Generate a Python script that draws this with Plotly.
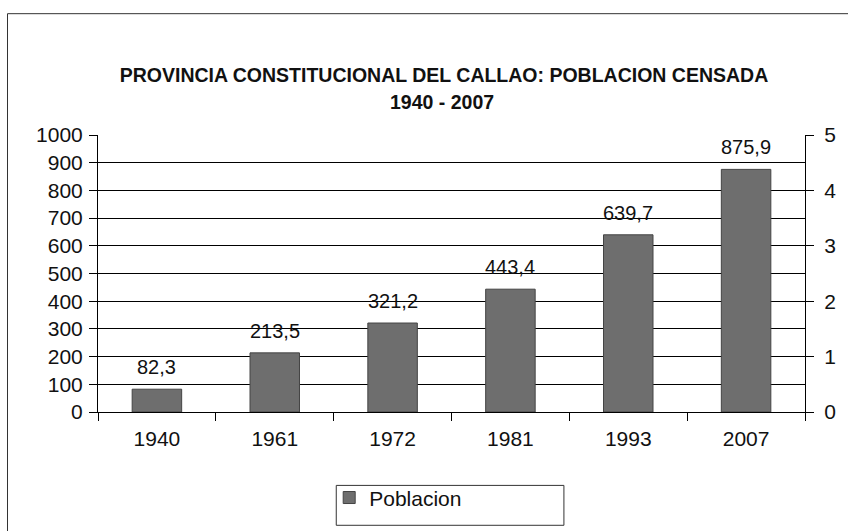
import plotly.graph_objects as go

years = ["1940", "1961", "1972", "1981", "1993", "2007"]
poblacion = [82.3, 213.5, 321.2, 443.4, 639.7, 875.9]
left_ticks = [0, 100, 200, 300, 400, 500, 600, 700, 800, 900, 1000]
right_ticks = [0, 1, 2, 3, 4, 5]

font_name = "Liberation Sans, Arial, sans-serif"

fig = go.Figure()
fig.add_trace(go.Bar(
    x=years, y=poblacion, name="Poblacion",
    marker=dict(color="#6e6e6e", line=dict(color="#444444", width=1)),
    width=0.42,
))
# empty trace so the secondary axis is drawn
fig.add_trace(go.Scatter(x=[], y=[], yaxis="y2", showlegend=False))

# value labels above the bars (x given as category index)
for i, v in enumerate(poblacion):
    fig.add_annotation(
        x=i, y=v, text=f"{v:.1f}".replace(".", ","),
        showarrow=False, yanchor="middle", yshift=22,
        font=dict(size=20, color="#111111"),
    )

# second title line
fig.add_annotation(
    x=0.487, y=1.118, xref="paper", yref="paper",
    text="<b>1940 - 2007</b>", showarrow=False,
    xanchor="center", yanchor="middle",
    font=dict(family=font_name, size=19.5, color="#111111"),
)

fig.update_layout(
    width=848, height=531,
    margin=dict(l=98, r=38, t=135, b=117),
    paper_bgcolor="white", plot_bgcolor="white",
    font=dict(family=font_name, size=21, color="#111111"),
    title=dict(
        text="<b>PROVINCIA CONSTITUCIONAL DEL CALLAO: POBLACION CENSADA</b>",
        x=0.5236, xref="container", xanchor="center",
        y=0.8588, yref="container", yanchor="middle",
        font=dict(family=font_name, size=19.5, color="#111111"),
    ),
    xaxis=dict(
        type="category", range=[-0.5, len(years) - 0.5],
        showline=True, linecolor="black", linewidth=1,
        ticks="outside", ticklen=8, tickcolor="black", tickson="boundaries",
        showgrid=False, tickfont=dict(size=21), ticklabelstandoff=8,
    ),
    yaxis=dict(
        range=[0, 1000], tickvals=left_ticks, tickformat="d",
        showline=True, linecolor="black", linewidth=1,
        ticks="outside", ticklen=8, tickcolor="black",
        showgrid=True, gridcolor="black", gridwidth=1,
        zeroline=False, tickfont=dict(size=21), ticklabelstandoff=2,
    ),
    yaxis2=dict(
        range=[0, 5], tickvals=right_ticks, overlaying="y", side="right",
        showline=True, linecolor="black", linewidth=1,
        ticks="outside", ticklen=8, tickcolor="black",
        showgrid=False, zeroline=False, tickfont=dict(size=21),
        ticklabelstandoff=6,
    ),
    showlegend=True,
    legend=dict(
        x=0.327, y=-0.31, xanchor="left", yanchor="middle",
        bgcolor="rgba(0,0,0,0)", borderwidth=0,
        font=dict(size=21),
    ),
    shapes=[
        # outer chart frame (right and bottom edges fall outside the picture)
        dict(type="rect", xref="paper", yref="paper",
             x0=-0.128, x1=1.1, y0=-0.5, y1=1.438,
             line=dict(color="#333333", width=1)),
        # legend box
        dict(type="rect", xref="paper", yref="paper",
             x0=0.337, x1=0.659, y0=-0.265, y1=-0.409,
             line=dict(color="#333333", width=1)),
    ],
)

# drop the default page margin / scrollbars so the figure fills the window
fig.write_html(
    "out.html",
    config={"displayModeBar": False},
    post_script="document.body.style.margin='0px';document.body.style.overflow='hidden';",
)
